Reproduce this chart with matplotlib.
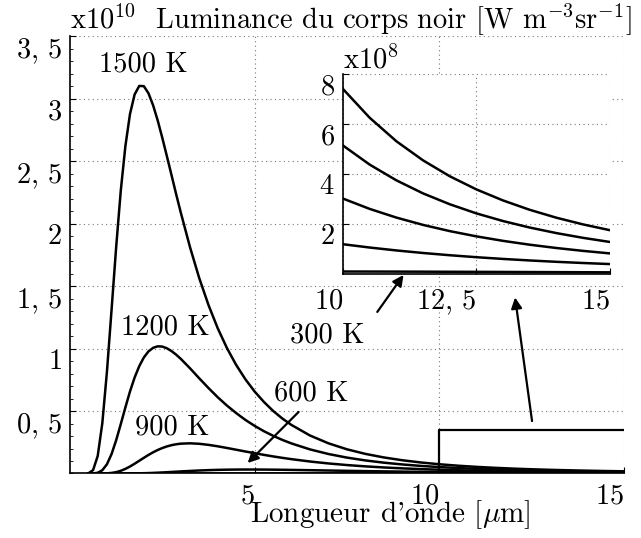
import matplotlib
matplotlib.use('Agg')
import matplotlib.pyplot as plt
from matplotlib.ticker import MultipleLocator

plt.rcParams['font.family'] = ['cmr10']
plt.rcParams['mathtext.fontset'] = 'cm'
plt.rcParams['axes.unicode_minus'] = False

# wavelengths in micrometres
wl = [0.5, 0.625, 0.75, 0.875, 1.0, 1.125, 1.25, 1.375, 1.5, 1.625, 1.75, 1.875,
      2.0, 2.125, 2.25, 2.375, 2.5, 2.625, 2.75, 2.875, 3.0, 3.25, 3.5, 3.75, 4.0,
      4.25, 4.5, 4.75, 5.0, 5.25, 5.5, 5.75, 6.0, 6.5, 7.0, 7.5, 8.0, 8.5, 9.0, 9.5,
      10.0, 10.5, 11.0, 11.5, 12.0, 12.5, 13.0, 13.5, 14.0, 14.5, 15.0]

# luminance in units of 1e10 W m^-3 sr^-1
lum_1500 = [0.002, 0.027, 0.140, 0.403, 0.814, 1.310, 1.813, 2.266, 2.623, 2.880,
            3.036, 3.104, 3.102, 3.045, 2.949, 2.827, 2.687, 2.539, 2.388, 2.236,
            2.089, 1.812, 1.564, 1.349, 1.163, 1.004, 0.869, 0.754, 0.656, 0.573,
            0.501, 0.440, 0.388, 0.304, 0.2414, 0.1936, 0.1569, 0.1284, 0.1060,
            0.0882, 0.0740, 0.0625, 0.0531, 0.04545, 0.0391, 0.03382, 0.0294,
            0.02566, 0.0225, 0.01982, 0.01752]
lum_1200 = [0.0, 0.0006, 0.0057, 0.026, 0.074, 0.1554, 0.2666, 0.3958, 0.5297,
            0.6574, 0.7688, 0.8598, 0.9296, 0.9779, 1.0063, 1.0185, 1.0164, 1.0026,
            0.980, 0.9515, 0.918, 0.8423, 0.762, 0.6844, 0.6105, 0.5438, 0.4836,
            0.4290, 0.381, 0.3388, 0.3017, 0.2689, 0.2403, 0.1928, 0.1559, 0.1272,
            0.1045, 0.0866, 0.0723, 0.0608, 0.0514, 0.04376, 0.03747, 0.03224,
            0.0279, 0.02424, 0.02117, 0.01857, 0.01635, 0.01445, 0.01281]
lum_900 = [0.0, 0.0, 0.0, 0.0003, 0.00135, 0.00445, 0.0109, 0.0216, 0.0369, 0.0561,
           0.0783, 0.1019, 0.1257, 0.1487, 0.1697, 0.1883, 0.2040, 0.2169, 0.2270,
           0.2341, 0.2389, 0.2417, 0.2379, 0.2293, 0.2178, 0.2044, 0.1903, 0.1762,
           0.1625, 0.1492, 0.1368, 0.1253, 0.1147, 0.0959, 0.0804, 0.0676, 0.0570,
           0.0483, 0.0411, 0.0351, 0.03017, 0.02604, 0.02257, 0.01964, 0.01716,
           0.01505, 0.01325, 0.01171, 0.01039, 0.00924, 0.00824]
lum_600 = [0.0, 0.0, 0.0, 0.0, 0.0, 0.0, 0.0, 0.0, 0.00018, 0.0004, 0.0008, 0.00144,
           0.00231, 0.00345, 0.00485, 0.0065, 0.00833, 0.0103, 0.01237, 0.01446,
           0.01655, 0.02054, 0.0240, 0.02687, 0.02905, 0.03056, 0.03146, 0.03183,
           0.03177, 0.03133, 0.03064, 0.02973, 0.02869, 0.02632, 0.02382, 0.02139,
           0.01908, 0.01699, 0.01511, 0.01341, 0.011911, 0.01059, 0.009426,
           0.008404, 0.00751, 0.006718, 0.006024, 0.005412, 0.004873, 0.004396,
           0.003975]
lum_300 = [0.0, 0.0, 0.0, 0.0, 0.0, 0.0, 0.0, 0.0, 0.0, 0.0, 0.0, 0.0, 0.0, 0.0,
           0.0, 0.0, 0.0, 0.0, 0.0, 0.0, 0.000006, 0.00001, 0.000025, 0.000045,
           0.00007, 0.000108, 0.00015, 0.000203, 0.00026, 0.000322, 0.00039,
           0.000452, 0.000517, 0.000642, 0.000751, 0.00084, 0.000908, 0.000955,
           0.000983, 0.000995, 0.000993, 0.000979, 0.000957, 0.000929, 0.000896,
           0.00086, 0.000823, 0.000783, 0.000745, 0.000706, 0.000669]

curves = [lum_1500, lum_1200, lum_900, lum_600, lum_300]

main_yticks = [0.5, 1.0, 1.5, 2.0, 2.5, 3.0, 3.5]
main_ylabels = [r'$0,\,5$', r'$1$', r'$1,\,5$', r'$2$', r'$2,\,5$', r'$3$', r'$3,\,5$']
main_xticks = [5, 10, 15]
inset_xticks = [10, 12.5, 15]
inset_xlabels = [r'$10$', r'$12,\,5$', r'$15$']
inset_yticks = [2, 4, 6, 8]

fs = 20.5
grid_style = dict(ls=(0, (1, 3)), color='#777777', lw=0.8)

fig = plt.figure(figsize=(6.41, 5.38), dpi=100)
ax = fig.add_axes([0.1092, 0.1199, 0.8643, 0.8123])

for y in curves:
    ax.plot(wl, y, color='k', lw=1.8, solid_joinstyle='round')

ax.set_xlim(0, 15)
ax.set_ylim(0, 3.5)
ax.set_xticks(main_xticks, labels=[r'$%d$' % t for t in main_xticks])
ax.set_yticks(main_yticks, labels=main_ylabels)
ax.yaxis.set_minor_locator(MultipleLocator(0.1))
for tl in ax.get_xticklabels():
    tl.set_ha('right')
for tl in ax.get_yticklabels():
    tl.set_va('top')
ax.tick_params(direction='in', length=4, width=0.8, labelsize=fs, pad=6)
ax.tick_params(which='minor', direction='in', length=2, width=0.6)
ax.tick_params(axis='x', pad=7)
ax.grid(True, **grid_style)
ax.spines['top'].set_visible(False)
ax.spines['right'].set_visible(False)
ax.spines['left'].set_linewidth(1.2)
ax.spines['bottom'].set_linewidth(1.2)

ax.text(0.578, -0.111, r"Longueur d'onde [$\mu$m]", transform=ax.transAxes,
        fontsize=21, ha='center', va='baseline')
ax.text(0, 1.018, r'x10$^{10}$  Luminance du corps noir [W m$^{-3}$sr$^{-1}$]',
        transform=ax.transAxes, fontsize=fs, ha='left', va='baseline')

# zoom box and labels
ax.plot([10, 10, 15], [0, 0.35, 0.35], color='k', lw=1.6)
ax.text(1.99, 3.28, '1500 K', fontsize=fs, ha='center', va='center')
ax.text(2.59, 1.17, '1200 K', fontsize=fs, ha='center', va='center')
ax.text(2.78, 0.372, '900 K', fontsize=fs, ha='center', va='center')
ax.text(6.53, 0.645, '600 K', fontsize=fs, ha='center', va='center')
ax.text(6.96, 1.11, '300 K', fontsize=fs, ha='center', va='center')

arrow = dict(arrowstyle='-|>', color='k', lw=1.6, mutation_scale=16,
             shrinkA=0, shrinkB=0)
ax.annotate('', xy=(12.05, 1.41), xytext=(12.51, 0.42), arrowprops=arrow)
ax.annotate('', xy=(9.03, 1.59), xytext=(8.32, 1.294), arrowprops=arrow)
ax.annotate('', xy=(4.81, 0.084), xytext=(6.19, 0.493), arrowprops=arrow)

# inset, units of 1e8
axi = fig.add_axes([0.5351, 0.4907, 0.4165, 0.3717])
for y in curves:
    axi.plot(wl, [v * 100 for v in y], color='k', lw=1.8)
axi.set_xlim(10, 15)
axi.set_ylim(0, 8)
axi.set_xticks(inset_xticks, labels=inset_xlabels)
axi.set_yticks(inset_yticks, labels=[r'$%d$' % t for t in inset_yticks])
for tl in axi.get_xticklabels():
    tl.set_ha('right')
for tl in axi.get_yticklabels():
    tl.set_va('top')
axi.tick_params(direction='in', length=4, width=0.8, labelsize=fs, pad=6)
axi.tick_params(axis='x', pad=10)
axi.grid(True, **grid_style)
axi.spines['top'].set_visible(False)
axi.spines['right'].set_visible(False)
axi.spines['left'].set_linewidth(1.2)
axi.spines['bottom'].set_linewidth(1.2)
axi.text(0, 1.03, r'x10$^{8}$', transform=axi.transAxes, fontsize=fs,
         ha='left', va='baseline')

fig.savefig('out.png', dpi=100)
